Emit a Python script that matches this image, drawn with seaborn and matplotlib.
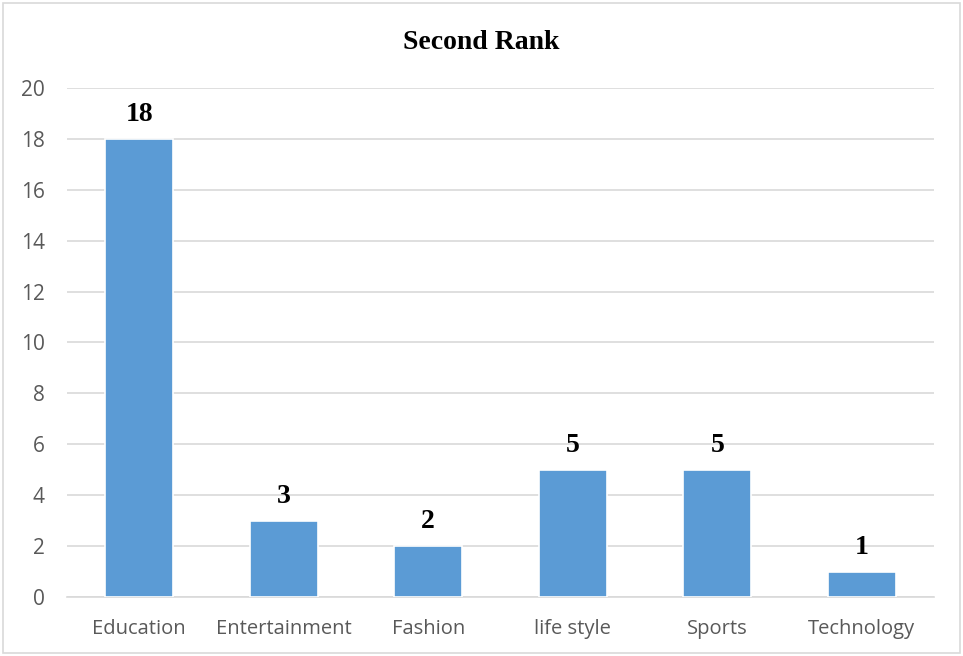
import matplotlib
matplotlib.use("Agg")
import matplotlib.pyplot as plt
import seaborn as sns
import pandas as pd
from matplotlib.patches import Rectangle

categories = ["Education", "Entertainment", "Fashion", "life style", "Sports", "Technology"]
counts = [18, 3, 2, 5, 5, 1]
y_ticks = [0, 2, 4, 6, 8, 10, 12, 14, 16, 18, 20]

df = pd.DataFrame({"category": categories, "count": counts})

sns.set_theme(style="white")
fig = plt.figure(figsize=(9.63, 6.56), dpi=100)
ax = fig.add_axes([0.0696, 0.0899, 0.9004, 0.7761])

sns.barplot(data=df, x="category", y="count", color="#5B9BD5", saturation=1,
            width=0.47, edgecolor="white", linewidth=1.2, zorder=3, ax=ax)

ax.set_ylim(0, 20)
ax.set_xlim(-0.5, len(categories) - 0.5)
ax.set_yticks(y_ticks)
ax.yaxis.grid(True, color="#D9D9D9", linewidth=1.2, zorder=0)
ax.set_axisbelow(True)
for side in ["top", "right", "left"]:
    ax.spines[side].set_visible(False)
ax.spines["bottom"].set_color("#D9D9D9")
ax.spines["bottom"].set_linewidth(1.2)

ax.set_xlabel("")
ax.set_ylabel("")
ax.tick_params(axis="y", length=0, pad=16, labelsize=15, labelcolor="#595959")
ax.tick_params(axis="x", which="major", length=0, pad=16, labelsize=14.5, labelcolor="#595959")
ax.set_xticks([i - 0.5 for i in range(len(categories) + 1)], minor=True)
ax.tick_params(axis="x", which="minor", length=6, width=1.2, color="#D9D9D9")
for lbl in ax.get_xticklabels() + ax.get_yticklabels():
    lbl.set_family("Open Sans")

for i, v in enumerate(counts):
    ax.annotate(str(v), (i, v), xytext=(0, 13), textcoords="offset points",
                ha="center", va="baseline", fontsize=20, fontweight="bold",
                family="Liberation Serif", color="black")

fig.text(0.5, 0.935, "Second Rank", ha="center", va="center", fontsize=20,
         fontweight="bold", family="Liberation Serif", color="black")

fig.patches.append(Rectangle((0.003, 0.004), 0.994, 0.992, transform=fig.transFigure,
                             fill=False, edgecolor="#D9D9D9", linewidth=1.2))

fig.savefig("out.png", dpi=100, facecolor="white")
